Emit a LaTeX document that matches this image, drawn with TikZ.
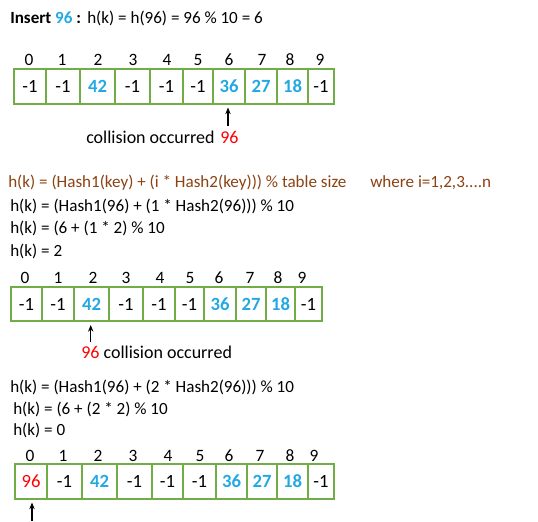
\documentclass[tikz,border=0pt]{standalone}
\usepackage{fontspec}
\setmainfont{Carlito}
\usetikzlibrary{arrows.meta}
\definecolor{cellgreen}{RGB}{112,173,71}
\definecolor{valblue}{RGB}{36,168,228}
\definecolor{brownf}{RGB}{140,66,18}
\definecolor{hotred}{RGB}{255,0,0}
\newcommand{\bv}[1]{\textcolor{valblue}{\textbf{#1}}}
\newcommand{\rv}[1]{\textcolor{hotred}{#1}}
\tikzset{
  cell/.style={draw=cellgreen, line width=1.5pt, minimum height=26pt, inner sep=0pt, font=\fontsize{14}{16}\selectfont},
  idx/.style={inner sep=0pt, font=\fontsize{13}{15}\selectfont},
  txt/.style={anchor=west, inner sep=0pt, font=\fontsize{12.8}{15}\selectfont},
  bigtxt/.style={txt, font=\fontsize{13.5}{16}\selectfont},
  arr/.style={-{Stealth[length=5pt,width=4pt]}, line width=0.8pt, shorten >=2pt}
}
\begin{document}
\begin{tikzpicture}[x=0.75pt, y=-0.75pt]
\useasboundingbox (0,0) rectangle (538,521);
% ---------- Section 1 ----------
\node[txt, font=\fontsize{12.8}{15}\selectfont] (t1) at (10,18) {\textbf{Insert \bv{96} :}};
\node[txt] (t1b) at (87,18) {h(k) = h(96) = 96 \% 10 = 6};
\foreach \a/\b/\v [count=\i from 0] in {14/46/{-1},46/80/{-1},80/115/{\bv{42}},115/150/{-1},150/183/{-1},183/213/{-1},213/245/{\bv{36}},245/277/{\bv{27}},277/308/{\bv{18}},308/334/{-1}}{
  \pgfmathsetmacro\w{(\b-\a)*0.75}
  \node[cell, minimum width=\w pt] (A\i) at ({(\a+\b)/2},86.5) {\v};
}
\foreach \x [count=\i from 0] in {29,62,98,133,167,198,229,262,290,320}{
  \node[idx] (IA\i) at (\x,60) {\i};
}
\coordinate (pa) at (228,126);
\draw[arr] (pa) -- (pa |- A6.south);
\node[bigtxt] (c1) at (86,137) {collision occurred};
\node[bigtxt] (c1n) at (220,137) {\rv{96}};
% ---------- Section 2 ----------
\node[txt] (f0) at (8,183) {\textcolor{brownf}{h(k) = (Hash1(key) + (i * Hash2(key))) \% table size}};
\node[txt] (f0b) at (370,183) {\textcolor{brownf}{where i=1,2,3....n}};
\node[txt] (f1) at (10,206) {h(k) = (Hash1(96) + (1 * Hash2(96))) \% 10};
\node[txt] (f2) at (10,228) {h(k) = (6 + (1 * 2) \% 10};
\node[txt] (f3) at (10,251) {h(k) = 2};
\foreach \a/\b/\v [count=\i from 0] in {11/42/{-1},42/74/{-1},74/109/{\bv{42}},109/143/{-1},143/175/{-1},175/204/{-1},204/236/{\bv{36}},236/266/{\bv{27}},266/295/{\bv{18}},295/322/{-1}}{
  \pgfmathsetmacro\w{(\b-\a)*0.75}
  \node[cell, minimum width=\w pt] (B\i) at ({(\a+\b)/2},304) {\v};
}
\foreach \x [count=\i from 0] in {25,58,93,126,160,190,219,250,278,302}{
  \node[idx] (IB\i) at (\x,278) {\i};
}
\coordinate (pb) at (90.7,342);
\draw[arr] (pb) -- (pb |- B2.south);
\node[bigtxt] (c2) at (81,352) {\rv{96} collision occurred};
% ---------- Section 3 ----------
\node[txt] (g1) at (10,387) {h(k) = (Hash1(96) + (2 * Hash2(96))) \% 10};
\node[txt] (g2) at (13,409) {h(k) = (6 + (2 * 2) \% 10};
\node[txt] (g3) at (13,430) {h(k) = 0};
\foreach \a/\b/\v [count=\i from 0] in {15/47/{\rv{96}},47/82/{-1},82/117/{\bv{42}},117/152/{-1},152/183/{-1},183/216/{-1},216/247/{\bv{36}},247/277/{\bv{27}},277/308/{\bv{18}},308/334/{-1}}{
  \pgfmathsetmacro\w{(\b-\a)*0.75}
  \node[cell, minimum width=\w pt] (C\i) at ({(\a+\b)/2},481.5) {\v};
}
\foreach \x [count=\i from 0] in {30,63,98,133,168,200,229,260,290,314}{
  \node[idx] (IC\i) at (\x,456) {\i};
}
\coordinate (pc) at (32,521);
\draw[arr] (pc) -- (pc |- C0.south);
\end{tikzpicture}
\end{document}
